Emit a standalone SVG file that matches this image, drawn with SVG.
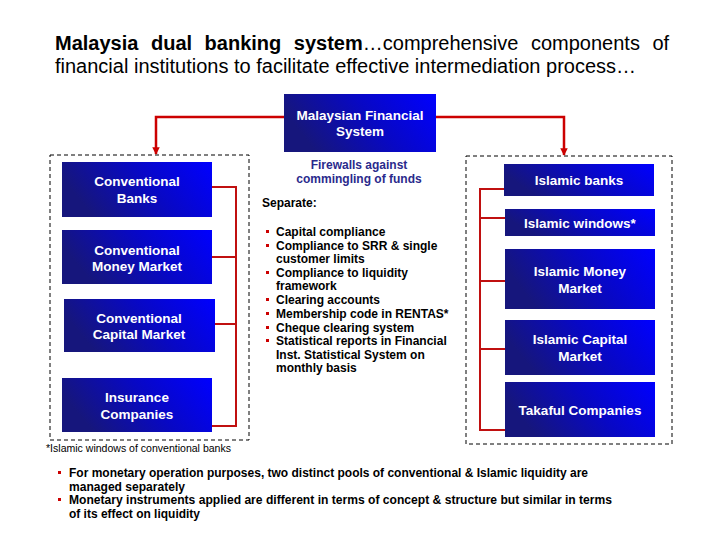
<svg xmlns="http://www.w3.org/2000/svg" width="720" height="540" viewBox="0 0 720 540">
<defs>
<linearGradient id="bg" x1="0" y1="0.3" x2="1" y2="0">
<stop offset="0" stop-color="#16167c"/>
<stop offset="0.5" stop-color="#0808c4"/>
<stop offset="1" stop-color="#0000ff"/>
</linearGradient>
<marker id="ah" viewBox="0 0 10 10" refX="9" refY="5" markerWidth="3" markerHeight="3" orient="auto" markerUnits="strokeWidth">
<path d="M0,0 L10,5 L0,10 z" fill="#cc0000"/>
</marker>
<style>
.box{fill:url(#bg);}
.bt{font-family:"Liberation Sans",Arial,sans-serif;font-size:13.5px;font-weight:bold;fill:#ffffff;text-anchor:middle;}
.dash{fill:none;stroke:#000;stroke-width:1;stroke-dasharray:4,3;}
.main{fill:none;stroke:#cc0000;stroke-width:2.5;}
.br{fill:none;stroke:#c01010;stroke-width:2;}
.mid{font-family:"Liberation Sans",Arial,sans-serif;font-size:12px;font-weight:bold;fill:#000;}
.fw{font-family:"Liberation Sans",Arial,sans-serif;font-size:12px;font-weight:bold;fill:#2a2a8c;text-anchor:middle;}
.bul{fill:#cc0000;}
.bot{font-family:"Liberation Sans",Arial,sans-serif;font-size:12px;font-weight:bold;fill:#000;}
.fn{font-family:"Liberation Sans",Arial,sans-serif;font-size:10px;fill:#000;}
.t{font-family:"Liberation Sans",Arial,sans-serif;font-size:20px;fill:#000;}
</style>
</defs>
<rect width="720" height="540" fill="#ffffff"/>

<g id="title">
<text class="t" x="55" y="50" word-spacing="7"><tspan font-weight="bold">Malaysia dual banking system</tspan>…comprehensive components of</text>
<text class="t" x="55" y="73">financial institutions to facilitate effective intermediation process…</text>
</g>

<g id="containers">
<rect class="dash" x="50" y="155" width="199" height="285"/>
<rect class="dash" x="466" y="156" width="206" height="288"/>
</g>

<g id="connectors">
<polyline class="main" points="284,117 156,117 156,154" marker-end="url(#ah)"/>
<polyline class="main" points="436,117 564,117 564,155" marker-end="url(#ah)"/>
<polyline class="br" points="212,187 236,187 236,426 212,426"/>
<line class="br" x1="212" y1="257" x2="236" y2="257"/>
<line class="br" x1="215" y1="324" x2="236" y2="324"/>
<polyline class="br" points="504,189 480,189 480,430 505,430"/>
<line class="br" x1="480" y1="218" x2="505" y2="218"/>
<line class="br" x1="480" y1="281" x2="505" y2="281"/>
<line class="br" x1="480" y1="349" x2="505" y2="349"/>
</g>

<g id="mfs">
<rect class="box" x="284" y="94" width="152" height="58"/>
<text class="bt" x="360" y="120">Malaysian Financial</text>
<text class="bt" x="360" y="136">System</text>
</g>

<g id="conv-banks">
<rect class="box" x="62" y="162" width="150" height="55"/>
<text class="bt" x="137" y="186">Conventional</text>
<text class="bt" x="137" y="203">Banks</text>
</g>
<g id="conv-money">
<rect class="box" x="62" y="230" width="150" height="54"/>
<text class="bt" x="137" y="255">Conventional</text>
<text class="bt" x="137" y="271">Money Market</text>
</g>
<g id="conv-capital">
<rect class="box" x="64" y="299" width="151" height="53"/>
<text class="bt" x="139" y="323">Conventional</text>
<text class="bt" x="139" y="339">Capital Market</text>
</g>
<g id="insurance">
<rect class="box" x="62" y="378" width="150" height="54"/>
<text class="bt" x="137" y="402">Insurance</text>
<text class="bt" x="137" y="419">Companies</text>
</g>

<g id="isl-banks">
<rect class="box" x="504" y="164" width="150" height="32"/>
<text class="bt" x="579" y="185">Islamic banks</text>
</g>
<g id="isl-windows">
<rect class="box" x="505" y="209" width="150" height="27"/>
<text class="bt" x="580" y="228">Islamic windows*</text>
</g>
<g id="isl-money">
<rect class="box" x="505" y="249" width="150" height="60"/>
<text class="bt" x="580" y="276">Islamic Money</text>
<text class="bt" x="580" y="293">Market</text>
</g>
<g id="isl-capital">
<rect class="box" x="505" y="320" width="150" height="55"/>
<text class="bt" x="580" y="344">Islamic Capital</text>
<text class="bt" x="580" y="361">Market</text>
</g>
<g id="takaful">
<rect class="box" x="505" y="382" width="150" height="55"/>
<text class="bt" x="580" y="415">Takaful Companies</text>
</g>

<g id="firewalls">
<text class="fw" x="359" y="169">Firewalls against</text>
<text class="fw" x="359" y="183">commingling of funds</text>
<text class="mid" x="262" y="207">Separate:</text>
<rect class="bul" x="266" y="230" width="3" height="3"/>
<rect class="bul" x="266" y="244" width="3" height="3"/>
<rect class="bul" x="266" y="271" width="3" height="3"/>
<rect class="bul" x="266" y="298" width="3" height="3"/>
<rect class="bul" x="266" y="312" width="3" height="3"/>
<rect class="bul" x="266" y="326" width="3" height="3"/>
<rect class="bul" x="266" y="339" width="3" height="3"/>
<text class="mid" x="276" y="236">Capital compliance</text>
<text class="mid" x="276" y="250">Compliance to SRR &amp; single</text>
<text class="mid" x="276" y="263">customer limits</text>
<text class="mid" x="276" y="277">Compliance to liquidity</text>
<text class="mid" x="276" y="290">framework</text>
<text class="mid" x="276" y="304">Clearing accounts</text>
<text class="mid" x="276" y="318">Membership code in RENTAS*</text>
<text class="mid" x="276" y="332">Cheque clearing system</text>
<text class="mid" x="276" y="345">Statistical reports in Financial</text>
<text class="mid" x="276" y="359">Inst. Statistical System on</text>
<text class="mid" x="276" y="372">monthly basis</text>
</g>

<g id="notes">
<text class="fn" x="46" y="452" textLength="185" lengthAdjust="spacingAndGlyphs">*Islamic windows of conventional banks</text>
<rect class="bul" x="58" y="471" width="3" height="3"/>
<rect class="bul" x="58" y="498" width="3" height="3"/>
<text class="bot" x="69" y="477" textLength="519" lengthAdjust="spacingAndGlyphs">For monetary operation purposes, two distinct pools of conventional &amp; Islamic liquidity are</text>
<text class="bot" x="69" y="491" textLength="116" lengthAdjust="spacingAndGlyphs">managed separately</text>
<text class="bot" x="69" y="504" textLength="543" lengthAdjust="spacingAndGlyphs">Monetary instruments applied are different in terms of concept &amp; structure but similar in terms</text>
<text class="bot" x="69" y="518" textLength="131" lengthAdjust="spacingAndGlyphs">of its effect on liquidity</text>
</g>
</svg>
